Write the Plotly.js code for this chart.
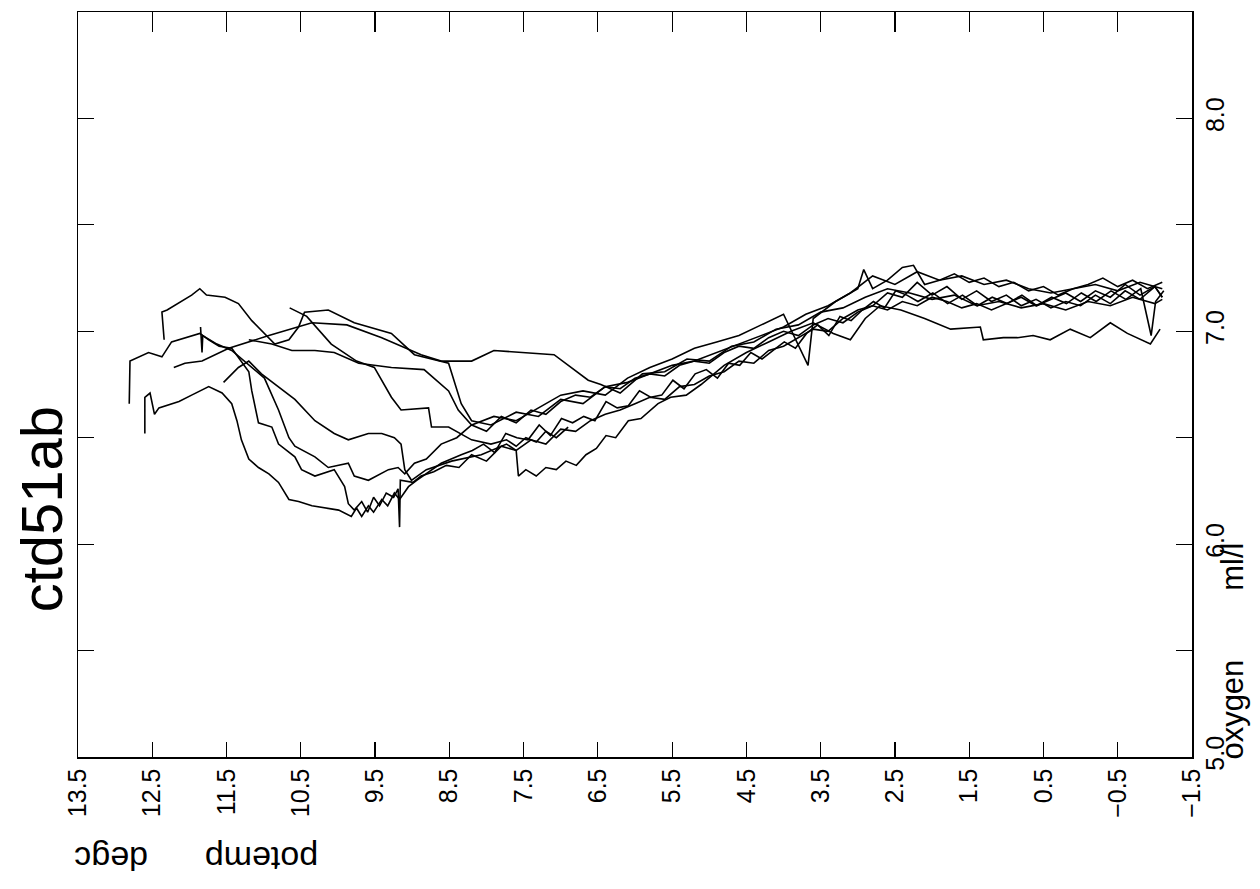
<!DOCTYPE html>
<html>
<head>
<meta charset="utf-8">
<script src="https://cdn.plot.ly/plotly-3.0.1.min.js"></script>
<style>html,body{margin:0;padding:0;background:#fff;}#chart{width:1260px;height:889px;}</style>
</head>
<body>
<div id="chart"></div>
<script>
// potential temperature (degC) and oxygen (ml/l) for each cast
const potempA = [12.34,12.37,12.30,11.97,11.86,11.77,11.52,11.34,11.16,10.99,10.85,10.66,10.53,10.45,10.13,9.78,9.28,8.97,8.51,8.34,8.20,7.94,7.6,7.3,7.0,6.7,6.4,6.1,5.8,5.5,5.2,4.9,4.6,4.3,4.0,3.7,3.4,3.1,2.8,2.5,2.2,1.9,1.6,1.3,1.0,0.7,0.4,0.1,-0.2,-0.5,-0.8,-1.1];
const oxygenA = [6.96,7.09,7.10,7.17,7.20,7.17,7.16,7.13,7.05,6.99,6.94,6.96,7.02,7.09,7.10,7.04,6.99,6.89,6.85,6.66,6.58,6.56,6.62,6.60,6.68,6.66,6.74,6.76,6.80,6.84,6.86,6.90,6.94,6.98,7.02,7.08,7.12,7.18,7.26,7.22,7.28,7.24,7.26,7.22,7.24,7.20,7.18,7.20,7.22,7.19,7.23,7.20];

const potempB = [12.21,12.06,11.83,11.47,10.93,10.35,9.88,9.41,8.88,8.61,8.20,7.90,7.09,6.82,6.63,6.46,6.2,5.9,5.6,5.3,5.0,4.7,4.4,4.1,3.8,3.5,3.2,2.9,2.6,2.3,2.0,1.7,1.4,1.1,0.8,0.5,0.2,-0.1,-0.4,-0.7,-1.0,-1.1];
const oxygenB = [6.83,6.85,6.86,6.92,6.98,7.04,7.03,6.97,6.89,6.86,6.86,6.91,6.89,6.82,6.77,6.75,6.71,6.80,6.81,6.87,6.86,6.93,6.95,7.01,7.03,7.09,7.11,7.16,7.20,7.18,7.15,7.17,7.12,7.14,7.11,7.13,7.10,7.14,7.12,7.16,7.13,7.15];

const potempC = [12.60,12.60,12.53,12.47,12.41,12.14,11.97,11.74,11.56,11.43,11.36,11.30,11.20,11.07,10.93,10.80,10.66,10.53,10.35,10.15,9.99,9.82,9.75,9.68,9.59,9.52,9.41,9.33,9.24,9.17,9.05,8.94,8.78,8.61,8.34,8.19,8.04,7.89,7.74,7.59,7.44,7.29,7.14,6.99,6.84,6.69,6.54,6.39,6.24,6.09,5.94,5.79,5.64,5.49,5.34,5.19,5.04,4.89,4.74,4.59,4.44,4.29,4.14,3.99,3.84,3.69,3.54,3.39,3.24,3.09,2.94,2.79,2.64,2.49,2.34,2.19,1.99,1.79,1.59,1.39,1.19,0.99,0.79,0.59,0.39,0.19,-0.01,-0.21,-0.41,-0.61,-0.81,-0.95,-1.01,-1.12];
const oxygenC = [6.52,6.69,6.71,6.61,6.64,6.67,6.70,6.74,6.71,6.66,6.58,6.49,6.40,6.36,6.33,6.29,6.21,6.20,6.18,6.17,6.16,6.13,6.17,6.13,6.18,6.15,6.21,6.18,6.24,6.21,6.27,6.30,6.34,6.38,6.42,6.44,6.47,6.43,6.52,6.50,6.49,6.56,6.51,6.59,6.57,6.60,6.58,6.67,6.64,6.65,6.72,6.69,6.70,6.77,6.73,6.80,6.82,6.78,6.85,6.84,6.90,6.87,6.91,6.95,6.92,6.99,7.03,6.98,7.07,7.05,7.10,7.14,7.11,7.19,7.17,7.14,7.18,7.13,7.17,7.12,7.16,7.13,7.17,7.12,7.16,7.13,7.18,7.14,7.19,7.15,7.20,6.98,7.14,7.19];

const potempD = [12.81,12.80,12.55,12.37,12.24,11.86,11.74,11.60,11.43,11.30,11.20,11.16,11.07,10.89,10.80,10.58,10.49,10.31,10.05,9.91,9.86,9.78,9.68,9.60,9.52,9.44,9.35,9.25,9.19,9.17,9.16,8.99,8.88,8.71,8.54,8.37,8.2,8.0,7.8,7.6,7.4,7.2,7.0,6.8,6.6,6.4,6.2,6.0,5.8,5.6,5.4,5.2,5.0,4.8,4.6,4.4,4.2,4.0,3.8,3.6,3.4,3.2,3.0,2.8,2.6,2.4,2.2,2.0,1.8,1.6,1.4,1.2,1.0,0.8,0.6,0.4,0.2,0.0,-0.2,-0.4,-0.6,-0.8,-1.0,-1.1];
const oxygenD = [6.66,6.86,6.90,6.88,6.95,6.99,6.96,6.93,6.92,6.86,6.81,6.72,6.57,6.55,6.47,6.41,6.35,6.32,6.35,6.27,6.19,6.16,6.20,6.15,6.22,6.18,6.24,6.22,6.26,6.08,6.30,6.29,6.32,6.34,6.37,6.36,6.42,6.39,6.46,6.44,6.49,6.47,6.54,6.53,6.58,6.61,6.63,6.66,6.69,6.68,6.74,6.75,6.79,6.81,6.86,6.85,6.91,6.93,6.97,7.01,7.00,7.06,7.10,7.12,7.18,7.16,7.23,7.17,7.21,7.15,7.19,7.14,7.17,7.12,7.15,7.11,7.14,7.12,7.17,7.13,7.19,7.15,7.21,7.16];

const potempE = [11.85,11.83,11.82,11.63,11.43,11.16,10.99,10.80,10.66,10.58,10.31,10.13,9.86,9.78,9.59,9.32,9.19,9.10,8.97,8.81,8.61,8.4,8.2,8.0,7.8,7.6,7.4,7.2,7.0,6.8,6.6,6.4,6.2,6.0,5.8,5.6,5.4,5.2,5.0,4.8,4.6,4.4,4.2,4.0,3.8,3.6,3.4,3.2,3.0,2.8,2.6,2.4,2.2,2.0,1.8,1.6,1.4,1.2,1.0,0.8,0.6,0.4,0.2,0.0,-0.2,-0.4,-0.6,-0.8,-1.0,-1.1];
const oxygenE = [7.02,6.90,6.98,6.94,6.91,6.83,6.78,6.63,6.50,6.46,6.41,6.36,6.38,6.32,6.30,6.35,6.36,6.33,6.38,6.40,6.47,6.50,6.56,6.53,6.60,6.57,6.63,6.61,6.67,6.70,6.69,6.74,6.73,6.78,6.80,6.79,6.84,6.86,6.85,6.90,6.93,6.92,6.97,7.00,6.98,7.03,7.06,7.04,7.09,7.12,7.10,7.14,7.12,7.16,7.14,7.11,7.13,7.10,7.13,7.16,7.12,7.15,7.18,7.14,7.19,7.16,7.22,7.17,7.21,7.16];

const potempF = [11.54,11.34,11.20,11.03,10.58,10.31,10.05,9.86,9.59,9.41,9.24,9.15,9.10,9.01,8.81,8.47,8.07,7.73,7.60,7.57,7.47,7.33,7.20,7.06,6.93,6.79,6.66,6.52,6.39,6.26,6.09,5.92,5.69,5.52,5.31,5.11,4.8,4.5,4.2,3.9,3.6,3.33,3.10,2.9,2.7,2.42,2.1,1.75,1.35,1.31,1.04,0.85,0.64,0.41,0.14,-0.13,-0.40,-0.63,-0.94,-1.07];
const oxygenF = [6.76,6.83,6.86,6.80,6.68,6.58,6.52,6.49,6.52,6.52,6.50,6.47,6.35,6.30,6.35,6.39,6.42,6.47,6.44,6.32,6.35,6.32,6.36,6.35,6.39,6.37,6.42,6.45,6.51,6.50,6.58,6.59,6.66,6.69,6.70,6.75,6.84,6.90,6.95,7.00,7.04,6.99,6.96,7.06,7.12,7.10,7.06,7.01,7.02,6.96,6.97,6.97,6.98,6.96,7.01,6.97,7.04,6.99,6.94,7.01];

const potempG = [10.65,10.42,10.09,9.75,9.51,9.28,9.15,8.78,8.74,8.51,8.20,7.94,7.73,7.60,7.47,7.33,7.20,7.06,6.90];
const oxygenG = [7.11,7.07,6.94,6.86,6.83,6.69,6.63,6.64,6.55,6.55,6.49,6.47,6.49,6.46,6.50,6.48,6.53,6.50,6.55];

const potempH = [11.20,10.89,10.62,10.31,10.05,9.72,9.28,8.84,8.51,8.38,8.20,7.9,7.6,7.3,7.0,6.7,6.4,6.1,5.8,5.5,5.2,4.9,4.6,4.3,4.0,3.67,3.6,3.3,3.0,2.92,2.8,2.6,2.4,2.25,2.1,1.9,1.7,1.5,1.3,1.1,0.9,0.7,0.5,0.3,0.1,-0.1,-0.3,-0.5,-0.7,-0.9,-1.1];
const oxygenH = [6.96,6.94,6.91,6.91,6.90,6.85,6.83,6.82,6.72,6.63,6.56,6.60,6.58,6.64,6.70,6.72,6.70,6.78,6.83,6.87,6.92,6.95,6.98,7.03,7.08,6.84,7.06,7.14,7.20,7.29,7.20,7.24,7.30,7.31,7.22,7.24,7.27,7.23,7.25,7.21,7.23,7.19,7.21,7.17,7.20,7.22,7.25,7.21,7.24,7.20,7.23];

// axis ticks
const potempTicks = [13.5,12.5,11.5,10.5,9.5,8.5,7.5,6.5,5.5,4.5,3.5,2.5,1.5,0.5,-0.5,-1.5];
const potempTickText = ["13.5","12.5","11.5","10.5","9.5","8.5","7.5","6.5","5.5","4.5","3.5","2.5","1.5","0.5","\u22120.5","\u22121.5"];
const oxygenTicks = [5.0,5.5,6.0,6.5,7.0,7.5,8.0];
const oxygenTickText = ["5.0","","6.0","","7.0","","8.0"];

const casts = [
  [potempA, oxygenA], [potempB, oxygenB], [potempC, oxygenC], [potempD, oxygenD],
  [potempE, oxygenE], [potempF, oxygenF], [potempG, oxygenG], [potempH, oxygenH]
];

const traces = casts.map(c => ({
  x: c[0], y: c[1], type: 'scatter', mode: 'lines',
  line: {color: '#000', width: 1.6}, hoverinfo: 'skip'
}));
// carrier for the top tick axis
traces.push({x: [potempTicks[0]], y: [oxygenTicks[0]], xaxis: 'x2', type: 'scatter', mode: 'markers', marker: {opacity: 0}, hoverinfo: 'skip'});

const FONT = 'Liberation Sans, Arial, Helvetica, sans-serif';
const nb = n => '\u00a0'.repeat(n);

const layout = {
  width: 1260, height: 889,
  margin: {l: 78, r: 68, t: 12, b: 132, pad: 0},
  paper_bgcolor: '#fff', plot_bgcolor: '#fff',
  showlegend: false,
  font: {family: FONT, color: '#000', size: 25},
  xaxis: {
    range: [13.5, -1.5], tickvals: potempTicks, ticktext: potempTickText,
    tickangle: -90, ticks: 'inside', ticklen: 15, tickwidth: 1.2, tickcolor: '#000',
    showline: true, linecolor: '#000', linewidth: 1.5, mirror: true,
    showgrid: false, zeroline: false, tickfont: {family: FONT, size: 25, color: '#000'}
  },
  xaxis2: {
    range: [13.5, -1.5], overlaying: 'x', side: 'top', anchor: 'y',
    tickvals: potempTicks, ticks: 'inside', ticklen: 20, tickwidth: 1.2, tickcolor: '#000',
    showticklabels: false, showgrid: false, zeroline: false, showline: false
  },
  yaxis: {
    range: [5.0, 8.5], side: 'right', tickvals: oxygenTicks, ticktext: oxygenTickText,
    tickangle: -90, ticks: 'inside', ticklen: 16, tickwidth: 1.2, tickcolor: '#000',
    showline: true, linecolor: '#000', linewidth: 1.5, mirror: 'ticks',
    showgrid: false, zeroline: false, tickfont: {family: FONT, size: 25, color: '#000'}
  },
  annotations: [
    {text: 'ctd51ab', xref: 'paper', yref: 'paper', x: -0.032, y: 0.333, textangle: -90,
     showarrow: false, xanchor: 'center', yanchor: 'middle', font: {family: FONT, size: 58, color: '#000'}},
    {text: 'potemp' + nb(6) + 'degc', xref: 'paper', yref: 'paper', x: 0.106, y: -0.136, textangle: 180,
     showarrow: false, xanchor: 'center', yanchor: 'middle', font: {family: FONT, size: 34, color: '#000'}},
    {text: 'oxygen' + nb(8) + 'ml/l', xref: 'paper', yref: 'paper', x: 1.036, y: 0.1416, textangle: -90,
     showarrow: false, xanchor: 'center', yanchor: 'middle', font: {family: FONT, size: 31, color: '#000'}}
  ]
};

Plotly.newPlot('chart', traces, layout, {staticPlot: true, displayModeBar: false});
</script>
</body>
</html>
